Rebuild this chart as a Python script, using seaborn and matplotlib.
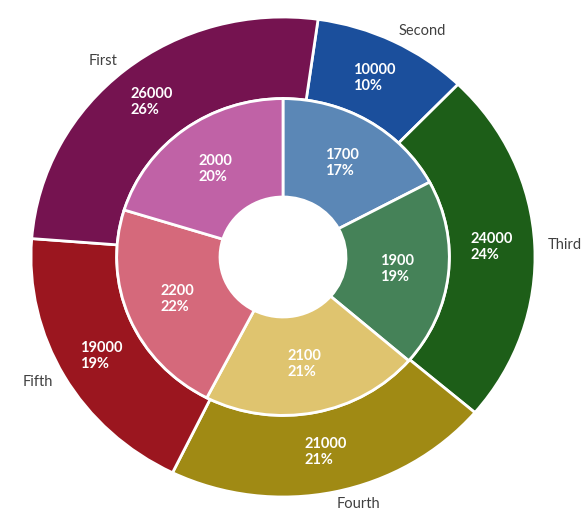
import matplotlib
matplotlib.use("Agg")
import matplotlib.pyplot as plt
import seaborn as sns

# ---- data ----
categories = ["Second", "Third", "Fourth", "Fifth", "First"]
outer_values = [10000, 24000, 21000, 19000, 26000]
inner_values = [1700, 1900, 2100, 2200, 2000]
outer_colors = ["#1B4F9C", "#1D5E18", "#A08A14", "#9B161F", "#751350"]
inner_colors = ["#5B87B6", "#458258", "#DFC46F", "#D5697B", "#C062A6"]

sns.set_theme(style="white")
plt.rcParams["font.family"] = ["Lato", "DejaVu Sans"]

fig = plt.figure(figsize=(5.81, 5.23), dpi=100)
ax = fig.add_axes([0, 0, 1, 1])


def make_autopct(values):
    total = sum(values)

    def fmt(p):
        return f"{round(p * total / 100)}\n{p:.0f}%"
    return fmt


outer_pal = sns.color_palette(outer_colors)
inner_pal = sns.color_palette(inner_colors)

w_out, t_out, a_out = ax.pie(
    outer_values, labels=categories, colors=outer_pal, radius=1.0,
    startangle=82, counterclock=False, labeldistance=1.05,
    autopct=make_autopct(outer_values), pctdistance=0.83,
    wedgeprops=dict(width=0.34, edgecolor="white", linewidth=2),
    textprops=dict(fontsize=10.5, color="#404040"),
)
w_in, t_in, a_in = ax.pie(
    inner_values, colors=inner_pal, radius=0.66,
    startangle=90, counterclock=False,
    autopct=make_autopct(inner_values), pctdistance=0.69,
    wedgeprops=dict(width=0.41, edgecolor="white", linewidth=2),
    textprops=dict(fontsize=10, color="white"),
)
for t in list(a_out) + list(a_in):
    t.set_color("white")
    t.set_fontsize(10.5)
    t.set_fontweight("bold")
    t.set_multialignment("left")

ax.set_aspect("auto")
ax.set_xlim(-283 / 252, 298 / 252)
ax.set_ylim(-(523 - 257) / 240, 257 / 240)
ax.axis("off")

fig.savefig("out.png", dpi=100, facecolor="white")
